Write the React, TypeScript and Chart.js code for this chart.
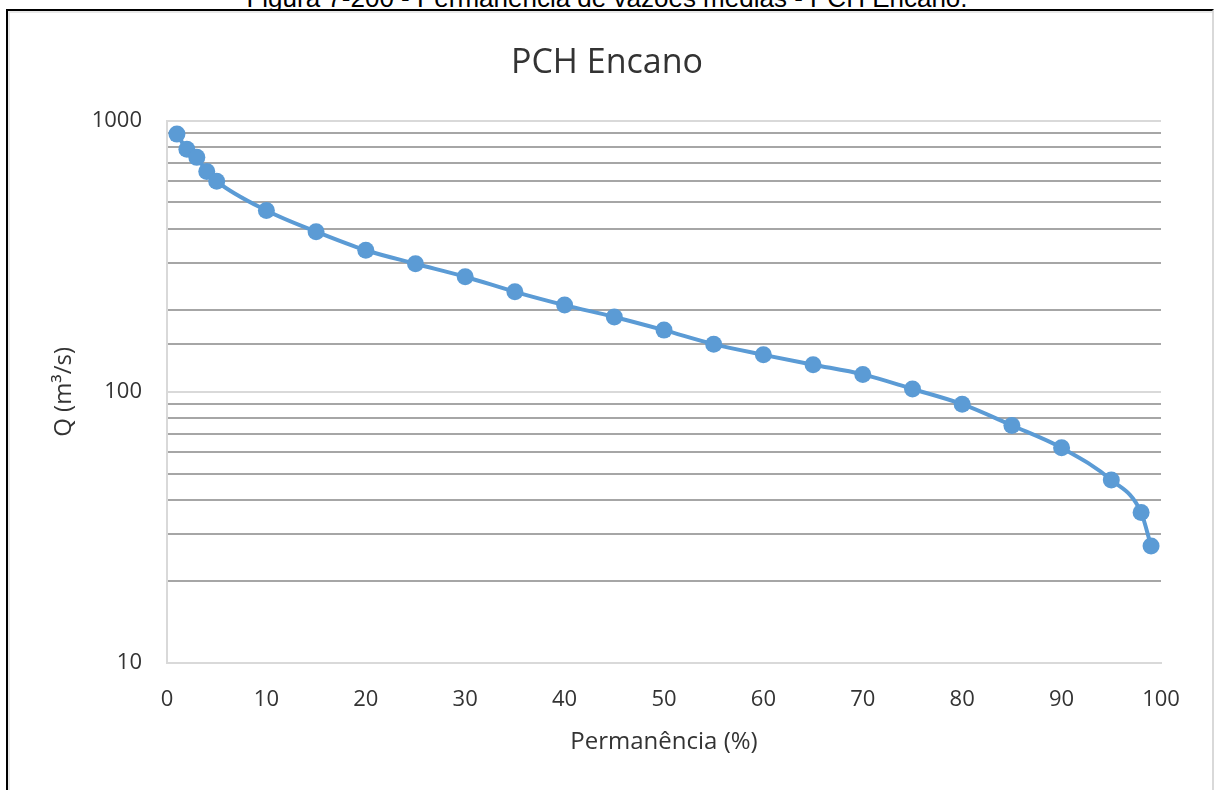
import React, { useEffect, useRef } from "react";
import { Chart, registerables } from "chart.js";

Chart.register(...registerables);

const captionText = "Figura 7-200 - Permanência de vazões médias - PCH Encano.";
const chartTitle = "PCH Encano";
const xAxisTitle = "Permanência (%)";
const yAxisTitle = "Q (m³/s)";

const permanence = [1, 2, 3, 4, 5, 10, 15, 20, 25, 30, 35, 40, 45, 50, 55, 60, 65, 70, 75, 80, 85, 90, 95, 98, 99];
const flows = [893, 786, 733, 650, 598, 467, 390, 333, 297, 266, 234, 209, 189, 169, 150, 137, 126, 116, 102.5, 90.1, 75.2, 62.2, 47.3, 35.9, 27.0];

const xTickValues = [0, 10, 20, 30, 40, 50, 60, 70, 80, 90, 100];
const yTickLabels = [10, 100, 1000];

const FONT = "'Open Sans', sans-serif";
const TEXT = "#333333";

export default function App() {
  const canvasRef = useRef<HTMLCanvasElement | null>(null);

  useEffect(() => {
    const canvas = canvasRef.current;
    if (!canvas) return;
    const points = permanence.map((p, i) => ({ x: p, y: flows[i] }));
    const isMajor = (v: number) => yTickLabels.some((t) => Math.abs(t - v) < 1e-6);

    const chart = new Chart(canvas, {
      type: "line",
      data: {
        datasets: [
          {
            data: points,
            borderColor: "#5B9BD5",
            backgroundColor: "#5B9BD5",
            borderWidth: 4,
            pointRadius: 8.5,
            pointBackgroundColor: "#5B9BD5",
            pointBorderWidth: 0,
            cubicInterpolationMode: "monotone",
            fill: false,
          },
        ],
      },
      options: {
        animation: false,
        responsive: false,
        maintainAspectRatio: false,
        layout: { padding: { top: 9, right: 0, bottom: 0, left: 0 } },
        plugins: {
          legend: { display: false },
          tooltip: { enabled: false },
          title: {
            display: true,
            text: chartTitle,
            color: TEXT,
            font: { family: FONT, size: 34, weight: "normal" },
            padding: { top: 34, bottom: 37 },
          },
        },
        scales: {
          x: {
            type: "linear",
            min: 0,
            max: 100,
            afterBuildTicks: (scale: any) => {
              scale.ticks = xTickValues.map((v) => ({ value: v }));
            },
            afterFit: (scale: any) => {
              scale.height = 127;
            },
            grid: { display: false, drawTicks: false },
            border: { display: true, color: "#d9d9d9", width: 2 },
            ticks: {
              color: TEXT,
              font: { family: FONT, size: 22 },
              padding: 24,
              maxRotation: 0,
              autoSkip: false,
            },
            title: {
              display: true,
              text: xAxisTitle,
              color: TEXT,
              font: { family: FONT, size: 24 },
              padding: { top: 0, bottom: 33 },
            },
          },
          y: {
            type: "logarithmic",
            min: 10,
            max: 1000,
            afterFit: (scale: any) => {
              scale.width = 167;
            },
            grid: {
              display: true,
              drawTicks: false,
              lineWidth: 2,
              color: (ctx: any) => (ctx.tick && isMajor(ctx.tick.value) ? "#d9d9d9" : "#a6a6a6"),
            },
            border: { display: true, color: "#d9d9d9", width: 2 },
            ticks: {
              color: TEXT,
              font: { family: FONT, size: 22 },
              padding: 25,
              autoSkip: false,
              callback: (value: any) => (isMajor(Number(value)) ? String(value) : ""),
            },
            title: {
              display: true,
              text: yAxisTitle,
              color: TEXT,
              font: { family: FONT, size: 24 },
              padding: { top: 50, bottom: 0 },
            },
          },
          yRight: {
            type: "linear",
            position: "right",
            display: true,
            afterFit: (scale: any) => {
              scale.width = 53;
            },
            grid: { display: false, drawTicks: false },
            border: { display: false },
            ticks: { display: false },
          },
        },
      },
    } as any);

    return () => chart.destroy();
  }, []);

  return (
    <div
      style={{
        position: "fixed",
        left: 0,
        top: 0,
        width: 1214,
        height: 790,
        overflow: "hidden",
        background: "#ffffff",
      }}
    >
      <div
        style={{
          position: "absolute",
          left: 0,
          top: -15,
          width: 1214,
          textAlign: "center",
          fontFamily: "'Liberation Sans', Arial, sans-serif",
          fontSize: 26,
          lineHeight: "26px",
          color: "#000",
          whiteSpace: "nowrap",
        }}
      >
        {captionText}
      </div>
      <div
        style={{
          position: "absolute",
          left: 6,
          top: 9,
          width: 1204,
          height: 820,
          borderTop: "2px solid #000",
          borderLeft: "2px solid #000",
          borderRight: "2px solid #d9d9d9",
          boxShadow: "inset 2px 2px 0 #e8e8e8",
        }}
      />
      <canvas
        ref={canvasRef}
        width={1214}
        height={790}
        style={{ position: "absolute", left: 0, top: 0, width: 1214, height: 790 }}
      />
    </div>
  );
}
